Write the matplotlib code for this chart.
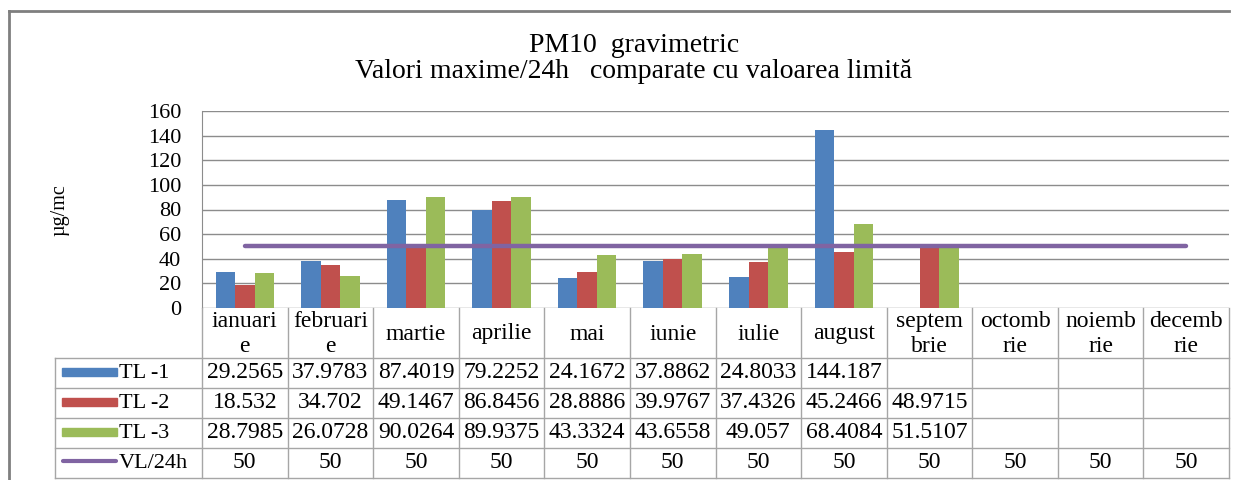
import matplotlib.pyplot as plt
import numpy as np
from matplotlib.lines import Line2D
from matplotlib.patches import Rectangle
from matplotlib.transforms import blended_transform_factory

plt.rcParams["font.family"] = ["Liberation Serif", "DejaVu Serif"]

months = ["ianuari\ne", "februari\ne", "martie", "aprilie", "mai", "iunie",
          "iulie", "august", "septem\nbrie", "octomb\nrie", "noiemb\nrie", "decemb\nrie"]
tl1 = [29.2565, 37.9783, 87.4019, 79.2252, 24.1672, 37.8862, 24.8033, 144.187,
       None, None, None, None]
tl2 = [18.532, 34.702, 49.1467, 86.8456, 28.8886, 39.9767, 37.4326, 45.2466,
       48.9715, None, None, None]
tl3 = [28.7985, 26.0728, 90.0264, 89.9375, 43.3324, 43.6558, 49.057, 68.4084,
       51.5107, None, None, None]
vl = [50] * 12

series_names = ["TL-1", "TL-2", "TL-3", "VL/24h"]
COLORS = {
    "TL-1": "#4F81BD",
    "TL-2": "#C0504D",
    "TL-3": "#9BBB59",
    "VL/24h": "#8064A2",
}

W, H = 1245, 480
GRID = "#8c8c8c"
BORDER = "#a6a6a6"


def fx(px):
    return px / W


def fy(py):
    return 1 - py / H


fig = plt.figure(figsize=(12.45, 4.8), dpi=100)
ax = fig.add_axes([fx(202), fy(308), fx(1229) - fx(202), fy(111) - fy(308)])

x = np.arange(len(months))
bw = 0.228
for off, name, vals in [(-bw, "TL-1", tl1), (0, "TL-2", tl2), (bw, "TL-3", tl3)]:
    xs = [xi + off for xi, v in zip(x, vals) if v is not None]
    ys = [v for v in vals if v is not None]
    ax.bar(xs, ys, width=bw, color=COLORS[name], zorder=3)
ax.plot(x, vl, color=COLORS["VL/24h"], lw=3.2, solid_capstyle="round", zorder=4)

ax.set_xlim(-0.5, 11.5)
ax.set_ylim(0, 160)
ax.set_yticks(range(0, 161, 20))
ax.set_xticks([])
ax.tick_params(axis="y", length=0, pad=15, labelsize=16)
ax.grid(axis="y", color=GRID, lw=1, zorder=0)
for s in ["top", "right", "bottom"]:
    ax.spines[s].set_visible(False)
ax.spines["left"].set_color(GRID)

fig.text(fx(60), fy(210), "µg/mc", rotation=90, ha="center", va="center", fontsize=14.5)
fig.text(fx(634), fy(45), "PM10  gravimetric", ha="center", va="center", fontsize=20)
fig.text(fx(634), fy(72), "Valori maxime/24h   comparate cu valoarea limită",
         ha="center", va="center", fontsize=20)

# outer frame
fig.add_artist(Line2D([fx(9), fx(1229)], [fy(11), fy(11)], color="#7f7f7f", lw=2))
fig.add_artist(Line2D([fx(9), fx(9)], [fy(11), fy(480)], color="#7f7f7f", lw=2))

# data table
tr = blended_transform_factory(ax.transData, fig.transFigure)
row_tops = [308, 358, 388, 418, 448, 478]
for i in range(len(months) + 1):
    fig.add_artist(Line2D([i - 0.5, i - 0.5], [fy(308), fy(478)], transform=tr,
                          color=BORDER, lw=1))
for py in row_tops[1:]:
    fig.add_artist(Line2D([fx(55), fx(1229)], [fy(py), fy(py)], color=BORDER, lw=1))
fig.add_artist(Line2D([fx(55), fx(55)], [fy(358), fy(478)], color=BORDER, lw=1))

for i, m in enumerate(months):
    fig.text(i, fy(334), m, transform=tr, ha="center", va="center",
             fontsize=17, linespacing=1.2)

for r, (name, vals) in enumerate(zip(series_names, [tl1, tl2, tl3, vl])):
    yc = (row_tops[r + 1] + row_tops[r + 2]) / 2
    if name == "VL/24h":
        fig.add_artist(Line2D([fx(63), fx(116)], [fy(yc - 2), fy(yc - 2)],
                              color=COLORS[name], lw=3, solid_capstyle="round"))
    else:
        fig.add_artist(Rectangle((fx(62), fy(yc + 3)), fx(117) - fx(62), fy(yc - 5) - fy(yc + 3),
                                 transform=fig.transFigure, color=COLORS[name]))
    fig.text(fx(119), fy(yc), name.replace("-", " -"), ha="left", va="center", fontsize=16)
    for i, v in enumerate(vals):
        if v is not None:
            fig.text(i, fy(yc), str(v), transform=tr, ha="center", va="center", fontsize=17)

fig.savefig("out.png", dpi=100)
